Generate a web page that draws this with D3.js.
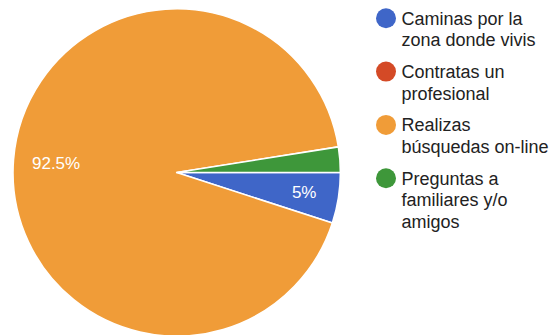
<!DOCTYPE html>
<html>
<head>
<meta charset="utf-8">
<script src="https://cdn.jsdelivr.net/npm/d3@7"></script>
<style>
  html, body { margin: 0; padding: 0; background: #fff; }
  svg { display: block; }
</style>
</head>
<body>
<svg id="chart" width="553" height="335"></svg>
<script>
// Answer options, each split into the lines shown in the legend
const categories = [
  ["Caminas por la", "zona donde vivis"],
  ["Contratas un", "profesional"],
  ["Realizas", "búsquedas on-line"],
  ["Preguntas a", "familiares y/o", "amigos"]
];
// Share of responses (%)
const values = [5, 0, 92.5, 2.5];
const colors = ["#3f66c8", "#d44a26", "#f09c38", "#3e973a"];

const svg = d3.select("#chart");
const cx = 176.7, cy = 172.5, radius = 163.7;

const pie = d3.pie()
  .value(d => d)
  .sort(null)
  .startAngle(Math.PI / 2)
  .endAngle(Math.PI / 2 + 2 * Math.PI);

const arcs = pie(values);
const arc = d3.arc().innerRadius(0).outerRadius(radius);
const labelArc = d3.arc().innerRadius(125).outerRadius(125);

const g = svg.append("g").attr("transform", `translate(${cx},${cy})`);

g.selectAll("path.slice")
  .data(arcs.filter(d => d.data > 0))
  .join("path")
  .attr("class", "slice")
  .attr("d", arc)
  .attr("fill", d => colors[d.index])
  .attr("stroke", "#fff")
  .attr("stroke-width", 1.6)
  .attr("stroke-linejoin", "round");

// Percentage labels on slices big enough to hold them
g.selectAll("text.pct")
  .data(arcs.filter(d => d.data >= 5))
  .join("text")
  .attr("class", "pct")
  .attr("transform", d => {
    const [x, y] = labelArc.centroid(d);
    return `translate(${x + 4},${y})`;
  })
  .attr("dy", "0.36em")
  .attr("text-anchor", "middle")
  .attr("font-family", "'Liberation Sans', Arial, sans-serif")
  .attr("font-size", 17)
  .attr("fill", "#fff")
  .text(d => d.data + "%");

// Legend
const legendX = 386, legendY = 18.3, entryStep = 53.3, lineStep = 21.7;
const legend = svg.append("g");
const items = legend.selectAll("g.item")
  .data(categories)
  .join("g")
  .attr("class", "item")
  .attr("transform", (d, i) => `translate(${legendX},${legendY + i * entryStep})`);

items.append("circle")
  .attr("r", 10)
  .attr("fill", (d, i) => colors[i]);

items.append("text")
  .attr("font-family", "'Liberation Sans', Arial, sans-serif")
  .attr("font-size", 18)
  .attr("fill", "#222")
  .selectAll("tspan")
  .data(d => d)
  .join("tspan")
  .attr("x", 15.5)
  .attr("y", (d, k) => 6.5 + k * lineStep)
  .text(d => d);
</script>
</body>
</html>
